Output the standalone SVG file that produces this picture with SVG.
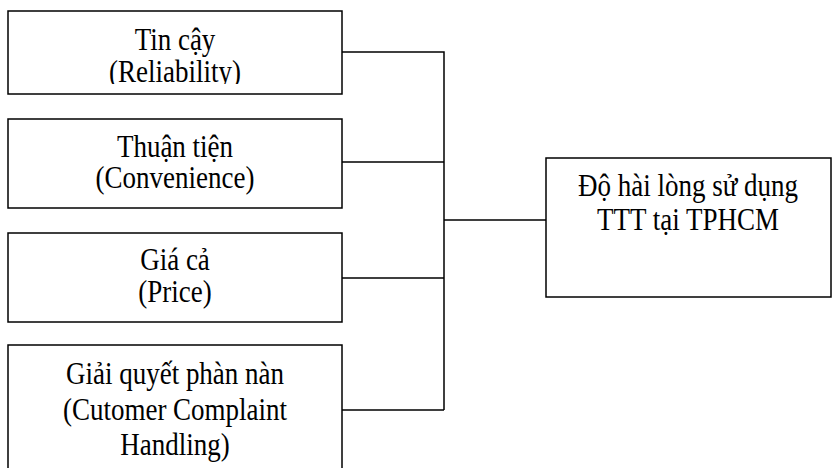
<svg xmlns="http://www.w3.org/2000/svg" width="834" height="468" viewBox="0 0 834 468">
<style>
.box{fill:#fff;stroke:#000;stroke-width:1.5}
.ln{fill:none;stroke:#000;stroke-width:1.5}
.t{font-family:'Liberation Serif',serif;font-size:27px;fill:#000;text-anchor:middle}
</style>
<defs>
<clipPath id="c1"><rect x="9" y="12" width="332" height="72"/></clipPath>
</defs>
<rect width="834" height="468" fill="#fff"/>
<g id="connectors">
<path class="ln" d="M342 52H444V410M342 162H444M342 278H444M342 410H444M444 220H546"/>
</g>
<g id="n1">
<rect class="box" x="8" y="11" width="334" height="83"/>
<g clip-path="url(#c1)">
<text class="t" transform="translate(175 50) scale(1 1.15)">Tin cậy</text>
<text class="t" transform="translate(175 82) scale(1 1.15)">(Reliability)</text>
</g>
</g>
<g id="n2">
<rect class="box" x="8" y="119" width="334" height="89"/>
<text class="t" transform="translate(175 157) scale(1 1.15)">Thuận tiện</text>
<text class="t" transform="translate(175 188) scale(1 1.15)">(Convenience)</text>
</g>
<g id="n3">
<rect class="box" x="8" y="233" width="334" height="89"/>
<text class="t" transform="translate(175 270) scale(1 1.15)">Giá cả</text>
<text class="t" transform="translate(175 302) scale(1 1.15)">(Price)</text>
</g>
<g id="n4">
<rect class="box" x="8" y="345" width="334" height="130"/>
<text class="t" transform="translate(175 384) scale(1 1.15)">Giải quyết phàn nàn</text>
<text class="t" transform="translate(175 420) scale(1 1.15)">(Cutomer Complaint</text>
<text class="t" transform="translate(175 455) scale(1 1.15)">Handling)</text>
</g>
<g id="n5">
<rect class="box" x="546" y="158" width="285" height="139"/>
<text class="t" transform="translate(688 196) scale(1 1.15)">Độ hài lòng sử dụng</text>
<text class="t" transform="translate(688 230) scale(1 1.15)">TTT tại TPHCM</text>
</g>
</svg>
